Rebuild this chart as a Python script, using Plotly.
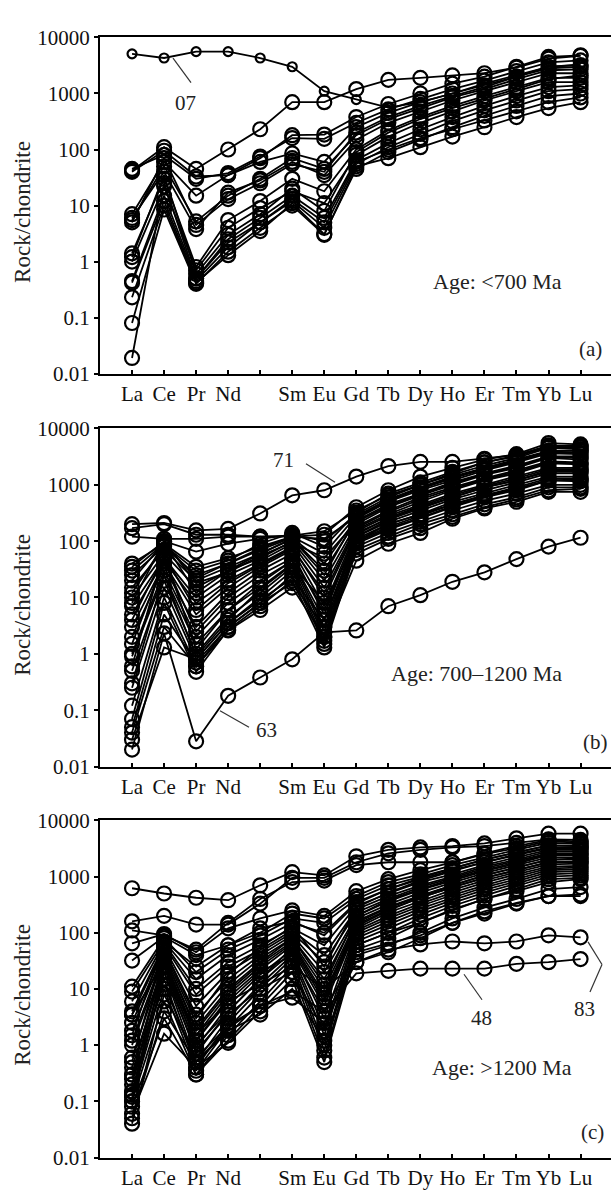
import plotly.graph_objects as go

ELEMENTS = ["La", "Ce", "Pr", "Nd", "", "Sm", "Eu", "Gd", "Tb", "Dy", "Ho", "Er", "Tm", "Yb", "Lu"]
Y_TICK_VALUES = [0.01, 0.1, 1, 10, 100, 1000, 10000]
Y_TICK_LABELS = ["0.01", "0.1", "1", "10", "100", "1000", "10000"]

# Panel (a): Age < 700 Ma  (La Ce Pr Nd Pm Sm Eu Gd Tb Dy Ho Er Tm Yb Lu)
SAMPLE_07 = [5100, 4300, 5600, 5600, 4300, 3000, 1100, 780, 560, 700, 1000, 1500, 2100, 3000, 3300]
PANEL_A = [
    [42, 110, 45, 100, 230, 700, 700, 1200, 1750, 1900, 2100, 2300, 2900, 4200, 4700],
    [40, 95, 33, 35, 70, 180, 185, 380, 650, 1000, 1500, 2000, 3000, 4500, 4800],
    [45, 80, 30, 38, 75, 160, 155, 300, 520, 800, 1200, 1700, 2500, 3600, 3900],
    [7, 60, 15, 35, 60, 85, 60, 250, 450, 700, 1000, 1400, 2000, 3000, 3200],
    [5.5, 50, 5.2, 15, 30, 70, 45, 180, 350, 550, 850, 1200, 1800, 2600, 2700],
    [6, 40, 3.8, 17, 28, 60, 35, 150, 300, 480, 750, 1100, 1600, 2300, 2300],
    [1.4, 30, 0.8, 5.5, 12, 30, 18, 100, 220, 380, 600, 900, 1300, 1900, 1900],
    [1.0, 22, 0.7, 4.0, 9, 18, 11, 80, 170, 300, 480, 750, 1100, 1600, 1600],
    [0.45, 15, 0.5, 2.5, 6, 15, 6, 65, 130, 230, 380, 600, 900, 1300, 1400],
    [0.42, 12, 0.45, 1.8, 5, 12, 4, 55, 110, 190, 320, 500, 750, 1100, 1200],
    [0.23, 10, 0.42, 1.3, 3.5, 11, 3.1, 45, 90, 150, 250, 400, 600, 900, 1000],
    [0.08, 8.5, 0.4, 1.5, 4, 10, 3, 50, 70, 110, 170, 250, 380, 550, 700],
    [0.019, 25, 0.5, 2.2, 5, 13, 5, 60, 100, 160, 230, 330, 480, 700, 850],
    [1.2, 35, 0.6, 3, 7, 20, 8, 90, 200, 350, 550, 800, 1200, 1800, 2100],
    [5, 70, 4.5, 13, 25, 55, 40, 200, 380, 600, 900, 1300, 2000, 2800, 3000],
]

# Panel (b): Age 700-1200 Ma
SAMPLE_71 = [200, 210, 155, 165, 310, 650, 800, 1400, 2150, 2550, 2550, 2900, 3400, 4800, 5000]
SAMPLE_63 = [0.02, 2.3, 0.028, 0.18, 0.38, 0.8, 2.4, 2.6, 7, 11, 19, 28, 48, 80, 115]
PANEL_B = [
    [170, 200, 130, 130, 120, 120, 130, 400, 800, 1400, 2000, 2800, 3500, 5500, 5200],
    [120, 110, 110, 120, 120, 125, 150, 350, 650, 1000, 1600, 2500, 3300, 5000, 4800],
    [35, 100, 65, 90, 110, 130, 100, 300, 600, 1000, 1500, 2200, 3000, 4500, 4300],
    [30, 90, 35, 50, 80, 120, 60, 280, 550, 900, 1400, 2000, 2800, 4000, 4000],
    [25, 80, 25, 40, 70, 115, 40, 250, 500, 800, 1200, 1800, 2500, 3600, 3500],
    [15, 70, 20, 35, 60, 110, 30, 230, 450, 700, 1100, 1600, 2200, 3200, 3200],
    [10, 60, 15, 30, 50, 100, 20, 200, 400, 650, 1000, 1500, 2000, 3000, 2800],
    [7, 50, 10, 25, 45, 90, 15, 180, 350, 600, 900, 1300, 1800, 2600, 2500],
    [5, 45, 8, 20, 40, 80, 10, 160, 300, 500, 800, 1200, 1600, 2400, 2300],
    [3, 40, 5, 15, 35, 70, 7, 150, 280, 450, 700, 1000, 1400, 2000, 2000],
    [2, 35, 3, 12, 30, 60, 5, 140, 250, 400, 600, 900, 1200, 1800, 1800],
    [1, 30, 2, 8, 20, 45, 3, 120, 220, 350, 550, 800, 1100, 1600, 1600],
    [0.9, 25, 1.5, 6, 15, 40, 2.5, 110, 200, 300, 500, 700, 1000, 1400, 1400],
    [0.5, 20, 1.0, 4.5, 12, 35, 2.0, 100, 180, 280, 450, 650, 900, 1300, 1300],
    [0.25, 15, 0.8, 3.5, 10, 30, 1.7, 90, 160, 250, 400, 600, 800, 1200, 1200],
    [0.12, 10, 0.6, 3, 8, 25, 1.5, 80, 140, 220, 350, 520, 700, 1000, 1000],
    [0.07, 8, 0.48, 2.7, 7, 20, 1.3, 70, 120, 200, 300, 450, 600, 900, 900],
    [0.05, 5, 0.7, 3, 8, 18, 3, 60, 110, 170, 270, 400, 550, 800, 850],
    [0.04, 3, 0.6, 2.6, 6, 15, 2, 45, 90, 140, 250, 380, 500, 750, 750],
    [0.03, 1.3, 0.8, 3.5, 9, 22, 4, 100, 200, 300, 450, 650, 850, 1200, 1150],
    [12, 85, 30, 45, 90, 140, 80, 320, 700, 1100, 1700, 2500, 3200, 4700, 4600],
    [20, 95, 12, 30, 60, 110, 25, 260, 520, 850, 1300, 1900, 2600, 3800, 3700],
    [4, 55, 6, 18, 38, 75, 12, 170, 330, 550, 850, 1250, 1700, 2500, 2400],
    [1.5, 45, 2.5, 10, 25, 50, 6, 130, 260, 420, 650, 950, 1300, 1900, 1900],
    [0.6, 60, 1.2, 6, 18, 45, 4, 120, 240, 380, 600, 900, 1200, 1700, 1700],
    [8, 100, 18, 28, 55, 95, 50, 220, 420, 680, 1050, 1550, 2100, 3100, 3000],
    [0.3, 25, 0.9, 4, 14, 38, 8, 95, 170, 260, 420, 620, 850, 1200, 1250],
    [40, 90, 22, 40, 75, 120, 110, 270, 520, 900, 1350, 2000, 2700, 3900, 4100],
]

# Panel (c): Age > 1200 Ma
SAMPLE_83 = [3.5, 30, 1.5, 6, 12, 25, 10, 30, 50, 62, 70, 65, 70, 90, 83]
SAMPLE_48 = [0.3, 12, 0.5, 2, 5, 9, 4, 19, 21, 23, 23, 23, 28, 30, 34]
PANEL_C = [
    [620, 500, 420, 380, 700, 1200, 1050, 2300, 3000, 3300, 3500, 3900, 4800, 5800, 5800],
    [160, 200, 140, 140, 330, 950, 950, 1800, 2600, 3000, 3300, 3500, 4000, 4600, 4500],
    [110, 90, 50, 150, 400, 800, 850, 1600, 1800, 1800, 1800, 2600, 3500, 4500, 4200],
    [65, 95, 45, 120, 180, 250, 200, 550, 900, 1300, 1800, 2500, 3200, 4300, 4000],
    [32, 85, 40, 60, 100, 220, 180, 450, 800, 1100, 1600, 2200, 3000, 4000, 3800],
    [11, 80, 20, 50, 90, 180, 150, 400, 700, 1000, 1400, 2000, 2700, 3600, 3500],
    [9, 70, 15, 40, 75, 150, 100, 350, 600, 900, 1300, 1800, 2500, 3300, 3300],
    [6, 65, 10, 30, 60, 120, 60, 300, 500, 800, 1100, 1600, 2200, 3000, 3000],
    [4, 60, 8, 25, 50, 110, 40, 260, 450, 700, 1000, 1500, 2000, 2800, 2800],
    [3.5, 55, 5, 20, 45, 100, 30, 230, 400, 650, 950, 1400, 1900, 2600, 2600],
    [2.5, 50, 3.5, 15, 40, 90, 20, 200, 360, 580, 850, 1250, 1700, 2400, 2400],
    [1.8, 45, 2.5, 12, 35, 80, 15, 180, 320, 520, 780, 1150, 1600, 2200, 2200],
    [1.2, 40, 1.8, 9, 28, 70, 10, 160, 290, 460, 700, 1050, 1450, 2000, 2000],
    [1.0, 35, 1.2, 7, 22, 60, 7, 140, 260, 420, 640, 950, 1300, 1800, 1800],
    [0.6, 30, 0.9, 5, 18, 50, 5, 120, 230, 370, 580, 860, 1200, 1650, 1700],
    [0.4, 25, 0.7, 4, 15, 45, 3, 110, 200, 330, 520, 780, 1100, 1500, 1550],
    [0.25, 20, 0.5, 3, 12, 40, 2, 100, 180, 300, 470, 700, 1000, 1400, 1450],
    [0.15, 15, 0.4, 2.5, 10, 35, 1.5, 90, 160, 270, 420, 640, 900, 1300, 1350],
    [0.12, 10, 0.35, 2, 8, 30, 1.0, 80, 140, 240, 380, 580, 820, 1200, 1250],
    [0.1, 6, 0.3, 1.5, 6, 25, 0.8, 70, 120, 210, 340, 520, 750, 1100, 1150],
    [0.08, 3, 0.3, 1.2, 5, 20, 0.6, 60, 100, 180, 300, 460, 680, 1000, 1050],
    [0.06, 1.6, 0.4, 1.1, 4, 15, 0.5, 50, 80, 150, 260, 400, 600, 900, 950],
    [0.05, 4, 0.5, 1.8, 3.5, 10, 1.2, 40, 60, 100, 180, 280, 400, 600, 650],
    [0.04, 8, 0.6, 2.2, 5, 7, 2.5, 30, 45, 80, 150, 220, 330, 450, 450],
    [0.15, 25, 1.0, 4, 15, 55, 6, 130, 250, 420, 650, 950, 1300, 1800, 1850],
    [0.2, 40, 2, 10, 30, 80, 12, 200, 380, 600, 900, 1300, 1800, 2500, 2500],
    [0.5, 50, 3, 18, 55, 130, 25, 280, 520, 850, 1250, 1800, 2400, 3200, 3100],
    [0.3, 35, 1.5, 8, 25, 65, 8, 150, 280, 450, 700, 1050, 1450, 2000, 2100],
    [1.5, 70, 25, 60, 120, 160, 90, 330, 600, 950, 1400, 2000, 2700, 3600, 3500],
    [0.1, 20, 0.8, 3.5, 10, 20, 1.8, 60, 100, 150, 250, 400, 550, 800, 900],
    [0.13, 30, 1.2, 6, 20, 40, 4, 45, 65, 90, 150, 240, 340, 450, 480],
]

AGE_LABELS = ["Age: <700 Ma", "Age: 700\u20131200 Ma", "Age: >1200 Ma"]
PANEL_LETTERS = ["(a)", "(b)", "(c)"]

W, H = 611, 1194
FONT = "Liberation Serif"


def px(x):
    return x / W


def py(y):
    return 1 - y / H


X = list(range(len(ELEMENTS)))
fig = go.Figure()


def add_line(values, axis_idx, msize=14):
    sfx = "" if axis_idx == 1 else str(axis_idx)
    fig.add_trace(go.Scatter(
        x=X, y=values, mode="lines+markers",
        xaxis="x" + sfx, yaxis="y" + sfx,
        line=dict(color="black", width=1.8),
        marker=dict(symbol="circle-open", size=msize, color="black", line=dict(width=2.2)),
        showlegend=False, hoverinfo="skip",
    ))


for row in PANEL_A:
    add_line(row, 1)
add_line(SAMPLE_07, 1, msize=9)
for row in PANEL_B:
    add_line(row, 2)
add_line(SAMPLE_71, 2)
add_line(SAMPLE_63, 2)
for row in PANEL_C:
    add_line(row, 3)
add_line(SAMPLE_83, 3)
add_line(SAMPLE_48, 3)

# panel pixel extents (top, bottom)
panels = [(26, 369), (425, 770), (825, 1169)]
x_dom = [px(100), 1.0]

layout = dict(
    width=W, height=H,
    margin=dict(l=0, r=0, t=0, b=0),
    paper_bgcolor="white", plot_bgcolor="white",
    font=dict(family=FONT, size=21, color="black"),
    showlegend=False,
)
for i, (top, bot) in enumerate(panels, start=1):
    sfx = "" if i == 1 else str(i)
    layout["xaxis" + sfx] = dict(
        domain=x_dom, range=[-1, 14.95], anchor="y" + sfx,
        tickmode="array", tickvals=X, ticktext=ELEMENTS,
        ticks="inside", ticklen=4, tickwidth=1.5, tickcolor="black",
        showline=True, linewidth=2, linecolor="black", mirror=True,
        showgrid=False, zeroline=False,
        tickfont=dict(family=FONT, size=21, color="#111"),
    )
    layout["yaxis" + sfx] = dict(
        domain=[py(bot), py(top)], type="log", range=[-2, 4], anchor="x" + sfx,
        tickmode="array", tickvals=Y_TICK_VALUES, ticktext=Y_TICK_LABELS,
        ticks="outside", ticklen=4, tickwidth=1.5, tickcolor="black",
        showline=True, linewidth=2, linecolor="black", mirror=False,
        showgrid=False, zeroline=False,
        tickfont=dict(family=FONT, size=21, color="#111"),
    )
fig.update_layout(**layout)

annotations = []
shapes = []
title_y = [204, 605, 1003]
age_pos = [(497, 275), (476, 675), (502, 1077)]
letter_pos = [(590, 344), (595, 745), (592, 1143)]
for i in range(3):
    annotations.append(dict(text="Rock/chondrite", x=px(23), y=py(title_y[i]), xref="paper", yref="paper",
                            textangle=-90, showarrow=False, font=dict(family=FONT, size=23, color="#222"),
                            xanchor="center", yanchor="middle"))
    annotations.append(dict(text=AGE_LABELS[i], x=px(age_pos[i][0]), y=py(age_pos[i][1]), xref="paper", yref="paper",
                            showarrow=False, font=dict(family=FONT, size=22, color="#222"),
                            xanchor="center", yanchor="middle"))
    annotations.append(dict(text=PANEL_LETTERS[i], x=px(letter_pos[i][0]), y=py(letter_pos[i][1]), xref="paper", yref="paper",
                            showarrow=False, font=dict(family=FONT, size=21, color="#222"),
                            xanchor="center", yanchor="middle"))

sample_labels = [("07", 185, 93), ("71", 283, 457), ("63", 266, 733), ("48", 481, 1027), ("83", 584, 1017)]
for t, x, y in sample_labels:
    annotations.append(dict(text=t, x=px(x), y=py(y), xref="paper", yref="paper", showarrow=False,
                            font=dict(family=FONT, size=21, color="#222"), xanchor="center", yanchor="middle"))

leaders = [((173, 47), (191, 72)), ((306, 461), (335, 480)), ((220, 713), (249, 730)),
           ((464, 982), (482, 1008)), ((588, 949), (602, 972)), ((602, 972), (590, 1000))]
for (x0, y0), (x1, y1) in leaders:
    shapes.append(dict(type="line", xref="paper", yref="paper", x0=px(x0), y0=py(y0), x1=px(x1), y1=py(y1),
                       line=dict(color="#333", width=1.2)))

fig.update_layout(annotations=annotations, shapes=shapes)
fig.write_html("out.html")
